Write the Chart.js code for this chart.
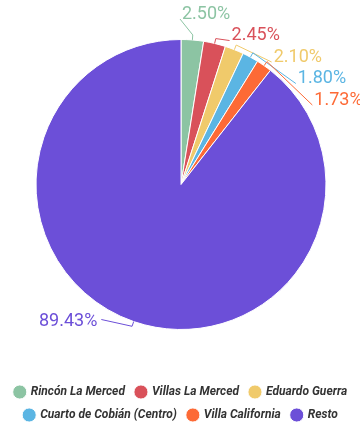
<!DOCTYPE html>
<html>
<head>
<meta charset="utf-8">
<script src="https://cdn.jsdelivr.net/npm/chart.js@4/dist/chart.umd.min.js"></script>
<style>
  html, body { margin: 0; padding: 0; background: #fff; }
  #wrap { width: 360px; height: 431px; position: relative; }
</style>
</head>
<body>
<div id="wrap"><canvas id="pie"></canvas></div>
<script>
const categories = ['Rincón La Merced', 'Villas La Merced', 'Eduardo Guerra', 'Cuarto de Cobián (Centro)', 'Villa California', 'Resto'];
const shares = [2.50, 2.45, 2.10, 1.80, 1.73, 89.43];
const sliceColors = ['#8cc4a3', '#d9515a', '#f0ca6b', '#5bb5e3', '#fd6a36', '#6c4fd8'];

// percentage labels with thin connectors, placed outside the pie
const pieLabels = {
  id: 'pieLabels',
  afterLayout(chart) {
    // pull the pie up a little, closer to the top labels
    chart.chartArea.top -= 6;
    chart.chartArea.height += 6;
  },
  afterDatasetsDraw(chart) {
    const ctx = chart.ctx;
    const arcs = chart.getDatasetMeta(0).data;
    const cx = arcs[0].x, cy = arcs[0].y, r = arcs[0].outerRadius;
    const ringR = r + 12;
    const gap = 21.5;
    const items = arcs.map((arc, i) => {
      const mid = (arc.startAngle + arc.endAngle) / 2;
      return { i, mid, right: Math.cos(mid) >= -0.01, y: cy + Math.sin(mid) * (r + 26) };
    });
    const rightSide = items.filter(o => o.right).sort((a, b) => a.y - b.y);
    for (let k = 1; k < rightSide.length; k++) {
      if (rightSide[k].y < rightSide[k - 1].y + gap) rightSide[k].y = rightSide[k - 1].y + gap;
    }
    items.forEach(o => {
      o.y = Math.min(o.y, cy + r - 8);
      const dy = o.y - cy;
      const dx = Math.sqrt(Math.max(0, ringR * ringR - dy * dy));
      o.x = o.right ? cx + dx : cx - dx;
    });

    ctx.save();
    ctx.font = '18px Roboto';
    ctx.textBaseline = 'middle';
    items.forEach(o => {
      const color = sliceColors[o.i];
      const ax = cx + Math.cos(o.mid) * r, ay = cy + Math.sin(o.mid) * r;
      const bx = cx + Math.cos(o.mid) * (r + 5), by = cy + Math.sin(o.mid) * (r + 5);
      let lx, ly;
      if (o.right) { lx = o.x - 1; ly = o.y + 5; }
      else { lx = o.x - 3; ly = o.y - 2; }
      ctx.strokeStyle = color;
      ctx.lineWidth = 1;
      ctx.beginPath();
      ctx.moveTo(ax, ay);
      ctx.lineTo(bx, by);
      ctx.lineTo(lx, ly);
      ctx.stroke();
      ctx.fillStyle = color;
      ctx.textAlign = o.right ? 'left' : 'right';
      const txt = shares[o.i].toFixed(2) + '%';
      ctx.fillText(txt, o.right ? o.x + 1 : o.x - 7, o.y);
    });
    ctx.restore();
  }
};

new Chart(document.getElementById('pie').getContext('2d'), {
  type: 'pie',
  data: {
    labels: categories,
    datasets: [{
      data: shares,
      backgroundColor: sliceColors,
      borderColor: '#ffffff',
      borderWidth: 1,
      radius: 145
    }]
  },
  options: {
    responsive: true,
    maintainAspectRatio: false,
    animation: false,
    layout: { padding: { left: 2, right: 0, top: 0, bottom: 0 } },
    plugins: {
      tooltip: { enabled: false },
      legend: {
        position: 'bottom',
        labels: {
          usePointStyle: true,
          pointStyle: 'circle',
          boxWidth: 10,
          boxHeight: 10,
          padding: 11,
          color: '#333333',
          font: { family: 'Roboto', size: 12, style: 'italic', weight: 'bold' }
        }
      }
    }
  },
  plugins: [pieLabels]
});
</script>
</body>
</html>
